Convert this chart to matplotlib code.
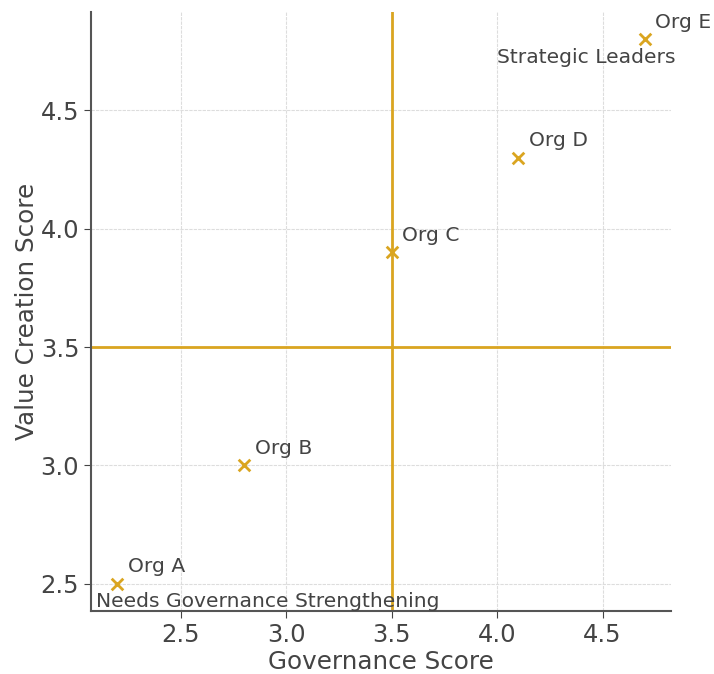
import matplotlib.pyplot as plt

# governance vs value creation per organisation
orgs = ['Org A', 'Org B', 'Org C', 'Org D', 'Org E']
governance = [2.2, 2.8, 3.5, 4.1, 4.7]
value_creation = [2.5, 3.0, 3.9, 4.3, 4.8]

gold = '#DAA520'

fig = plt.figure(figsize=(7.14, 6.74), dpi=100)
ax = fig.add_axes([0.1275, 0.0935, 0.8125, 0.8885])

ax.scatter(governance, value_creation, marker='x', color=gold, s=70, linewidths=2, zorder=3)
for name, x, y in zip(orgs, governance, value_creation):
    ax.text(x + 0.05, y + 0.05, name, fontsize=14.6, color='#444444')

# quadrant split
ax.axvline(3.5, color=gold, lw=2)
ax.axhline(3.5, color=gold, lw=2)

ax.text(4.0, 4.7, 'Strategic Leaders', fontsize=14.6, color='#444444')
ax.text(2.1, 2.4, 'Needs Governance Strengthening', fontsize=14.6, color='#444444')

ax.set_xlabel('Governance Score', fontsize=17.7, color='#444444', labelpad=2)
ax.set_ylabel('Value Creation Score', fontsize=17.7, color='#444444', labelpad=1)
ax.tick_params(labelsize=17.5, colors='#444444', length=5)
ax.set_xticks([2.5, 3.0, 3.5, 4.0, 4.5])
ax.set_yticks([2.5, 3.0, 3.5, 4.0, 4.5])
ax.grid(True, color='#dddddd', lw=0.8, linestyle=(0, (3, 1)))
ax.set_axisbelow(True)
for side in ['top', 'right']:
    ax.spines[side].set_visible(False)
for side in ['left', 'bottom']:
    ax.spines[side].set_color('#555555')
    ax.spines[side].set_linewidth(1.5)

fig.savefig('out.png')
